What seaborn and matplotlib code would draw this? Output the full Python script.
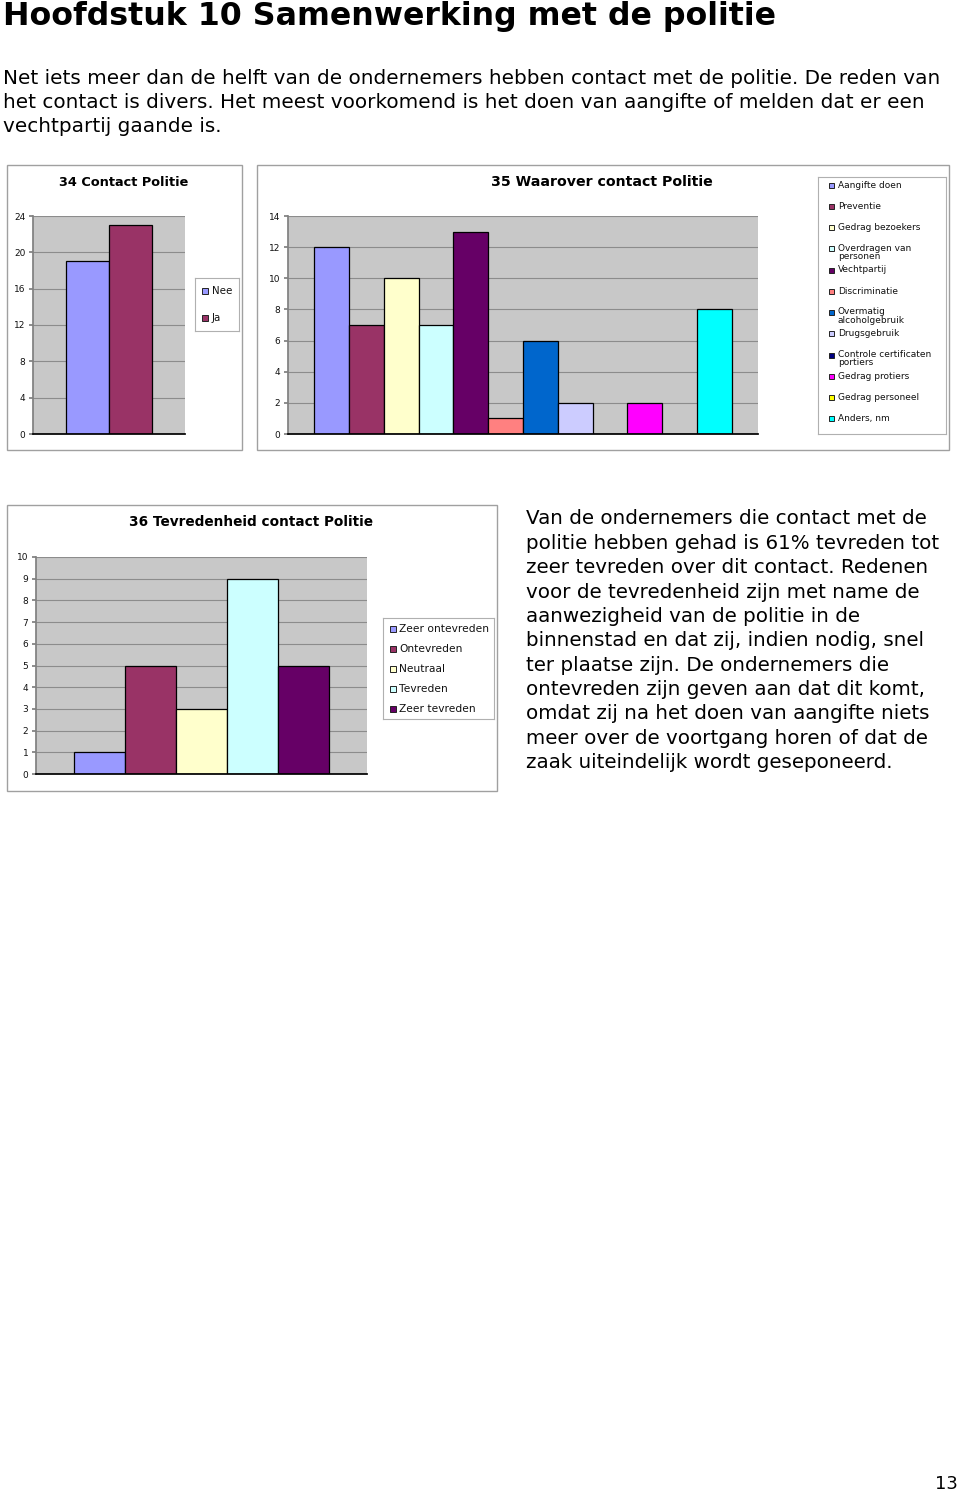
import matplotlib
matplotlib.use("Agg")
import matplotlib.pyplot as plt
from matplotlib.patches import Rectangle
import seaborn as sns

# ---------------- data ----------------
c34_cats = ["Nee", "Ja"]
c34_vals = [19, 23]
c34_colors = ["#9999FF", "#993366"]
c34_ticks = [0, 4, 8, 12, 16, 20, 24]

c35_cats = ["Aangifte doen", "Preventie", "Gedrag bezoekers", "Overdragen van\npersonen",
            "Vechtpartij", "Discriminatie", "Overmatig\nalcoholgebruik", "Drugsgebruik",
            "Controle certificaten\nportiers", "Gedrag protiers", "Gedrag personeel", "Anders, nm"]
c35_vals = [12, 7, 10, 7, 13, 1, 6, 2, 0, 2, 0, 8]
c35_colors = ["#9999FF", "#993366", "#FFFFCC", "#CCFFFF", "#660066", "#FF8080",
              "#0066CC", "#CCCCFF", "#000080", "#FF00FF", "#FFFF00", "#00FFFF"]
c35_ticks = [0, 2, 4, 6, 8, 10, 12, 14]

c36_cats = ["Zeer ontevreden", "Ontevreden", "Neutraal", "Tevreden", "Zeer tevreden"]
c36_vals = [1, 5, 3, 9, 5]
c36_colors = ["#9999FF", "#993366", "#FFFFCC", "#CCFFFF", "#660066"]
c36_ticks = list(range(0, 11))

title = "Hoofdstuk 10 Samenwerking met de politie"
intro = ["Net iets meer dan de helft van de ondernemers hebben contact met de politie. De reden van",
         "het contact is divers. Het meest voorkomend is het doen van aangifte of melden dat er een",
         "vechtpartij gaande is."]
para = ["Van de ondernemers die contact met de",
        "politie hebben gehad is 61% tevreden tot",
        "zeer tevreden over dit contact. Redenen",
        "voor de tevredenheid zijn met name de",
        "aanwezigheid van de politie in de",
        "binnenstad en dat zij, indien nodig, snel",
        "ter plaatse zijn. De ondernemers die",
        "ontevreden zijn geven aan dat dit komt,",
        "omdat zij na het doen van aangifte niets",
        "meer over de voortgang horen of dat de",
        "zaak uiteindelijk wordt geseponeerd."]
page_no = "13"

# ---------------- layout ----------------
sns.set_theme(style="white")
plt.rcParams["font.family"] = ["DejaVu Sans"]
plt.rcParams["text.color"] = "black"
W, H = 960, 1494
fig = plt.figure(figsize=(W / 100, H / 100), dpi=100)
fig.patch.set_facecolor("white")


def ax_px(x0, y0, x1, y1):
    return fig.add_axes([x0 / W, 1 - y1 / H, (x1 - x0) / W, (y1 - y0) / H])


def ftext(x, y, s, **kw):
    fig.text(x / W, 1 - y / H, s, **kw)


def box_px(x0, y0, x1, y1, ec="#A0A0A0"):
    fig.patches.append(Rectangle((x0 / W, 1 - y1 / H), (x1 - x0) / W, (y1 - y0) / H,
                                 transform=fig.transFigure, fill=False, ec=ec, lw=1.0))


def bar_chart(ax, cats, vals, colors, ticks):
    sns.barplot(x=cats, y=vals, hue=cats, order=cats, hue_order=cats, palette=colors,
                ax=ax, width=1.0, edgecolor="black", linewidth=0.9, legend=False,
                saturation=1)
    ax.set_facecolor("#C8C8C8")
    ax.set_ylim(ticks[0], ticks[-1])
    ax.set_yticks(ticks)
    ax.set_xlim(-1.25, len(cats) + 0.25)
    ax.set_xticks([])
    ax.set_xlabel("")
    ax.set_ylabel("")
    ax.yaxis.grid(True, color="#8C8C8C", lw=0.8)
    ax.set_axisbelow(True)
    for s in ["top", "right"]:
        ax.spines[s].set_visible(False)
    ax.spines["left"].set_color("#808080")
    ax.spines["bottom"].set_color("#000000")
    ax.tick_params(axis="y", labelsize=6.5, length=3, color="#808080", pad=2.5, left=True)
    for lab in ax.get_yticklabels():
        lab.set_color("#111111")


def legend_px(x0, y0, x1, y1, labels, colors, ys, sq_x, tx_x, fs, sq=5):
    lax = ax_px(x0, y0, x1, y1)
    lax.set_xlim(x0, x1)
    lax.set_ylim(y1, y0)
    lax.set_xticks([])
    lax.set_yticks([])
    for s in lax.spines.values():
        s.set_color("#B0B0B0")
        s.set_linewidth(0.8)
    for lab, col, y in zip(labels, colors, ys):
        lax.add_patch(Rectangle((sq_x, y - sq / 2), sq, sq, fc=col, ec="#222222", lw=0.7))
        if "\n" in lab:
            lax.text(tx_x, y - fs * 0.8, lab, fontsize=fs, va="top", ha="left",
                     color="#111111", linespacing=0.95)
        else:
            lax.text(tx_x, y, lab, fontsize=fs, va="center", ha="left", color="#111111")


# ---------------- page text ----------------
ftext(3, 17, title, fontsize=22.8, fontweight="bold", va="center", ha="left")
for i, line in enumerate(intro):
    ftext(3, 78 + i * 24.4, line, fontsize=14.4, va="center", ha="left")
for i, line in enumerate(para):
    ftext(526, 519 + i * 24.35, line, fontsize=14.3, va="center", ha="left")
ftext(958, 1484, page_no, fontsize=13, va="center", ha="right")

# ---------------- chart 34 ----------------
box_px(7, 165, 242, 450)
ax34 = ax_px(33, 216, 185, 434)
bar_chart(ax34, c34_cats, c34_vals, c34_colors, c34_ticks)
ftext(124, 182, "34 Contact Politie", fontsize=9.3, fontweight="bold", va="center", ha="center")
legend_px(195, 278, 239, 331, c34_cats, c34_colors, [291, 318], 202, 212, 7.4, sq=6)

# ---------------- chart 35 ----------------
box_px(257, 165, 949, 450)
ax35 = ax_px(288, 216, 758, 434)
bar_chart(ax35, c35_cats, c35_vals, c35_colors, c35_ticks)
ftext(602, 182, "35 Waarover contact Politie", fontsize=10.2, fontweight="bold", va="center", ha="center")
ys35 = [185 + i * 21.25 for i in range(len(c35_cats))]
legend_px(818, 177, 946, 434, c35_cats, c35_colors, ys35, 829, 838, 6.5, sq=5)

# ---------------- chart 36 ----------------
box_px(7, 505, 497, 791)
ax36 = ax_px(36, 557, 367, 774)
bar_chart(ax36, c36_cats, c36_vals, c36_colors, c36_ticks)
ftext(251, 522, "36 Tevredenheid contact Politie", fontsize=9.8, fontweight="bold", va="center", ha="center")
legend_px(383, 618, 494, 719, c36_cats, c36_colors, [629, 649, 669, 689, 709], 390, 399, 7.7, sq=6)

fig.savefig("out.png", dpi=100, facecolor="white")
